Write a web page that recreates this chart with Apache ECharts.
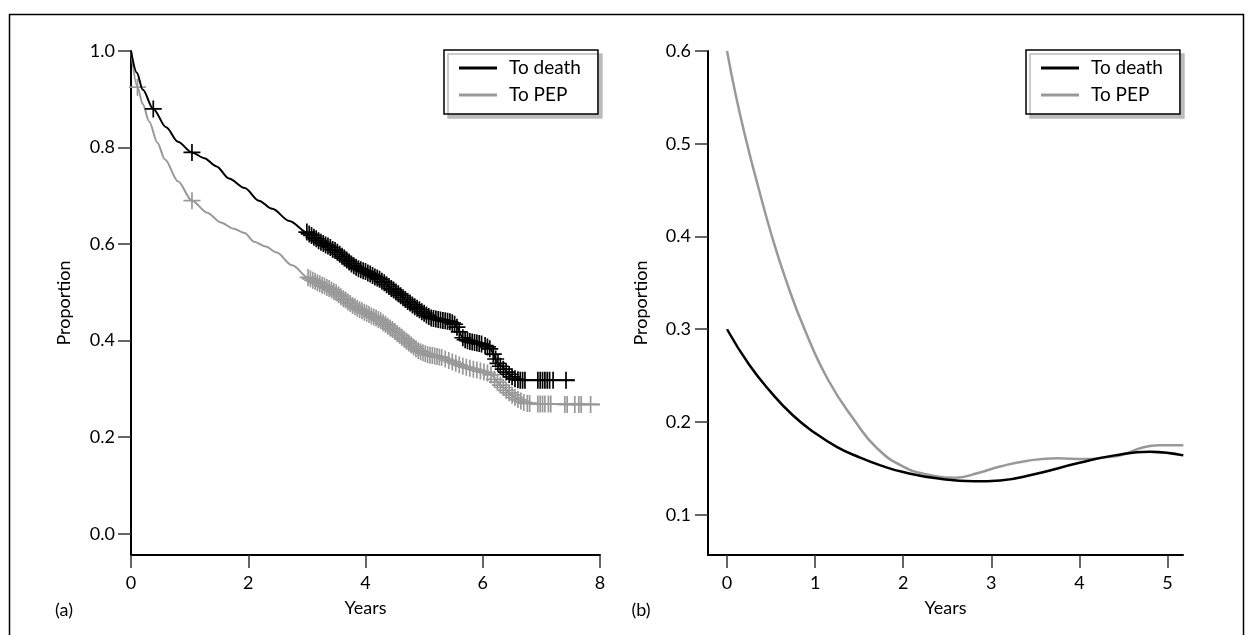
<!DOCTYPE html>
<html><head><meta charset="utf-8">
<script src="https://cdn.jsdelivr.net/npm/echarts@6/dist/echarts.min.js"></script>
<style>html,body{margin:0;padding:0;background:#fff}#c{width:1248px;height:635px}</style>
</head><body><div id="c"></div>
<script>
// ---------- Data ----------
const seriesNames = ['To death', 'To PEP'];
const leftXTicks = [0, 2, 4, 6, 8];
const leftYTicks = [0.0, 0.2, 0.4, 0.6, 0.8, 1.0];
const rightXTicks = [0, 1, 2, 3, 4, 5];
const rightYTicks = [0.1, 0.2, 0.3, 0.4, 0.5, 0.6];

// (a) survival curves [years, proportion]
const deathCurve = [[0,1.0],[0.1,0.955],[0.2,0.92],[0.38,0.88],[0.6,0.842],[0.8,0.812],[1.04,0.79],[1.25,0.778],[1.46,0.761],[1.67,0.736],[1.94,0.716],[2.18,0.69],[2.41,0.673],[2.7,0.648],[3.02,0.623],[3.25,0.603],[3.49,0.586],[3.83,0.552],[4.0,0.543],[4.24,0.527],[4.51,0.502],[4.85,0.469],[5.11,0.447],[5.45,0.439],[5.55,0.43],[5.66,0.406],[6.0,0.393],[6.12,0.383],[6.27,0.351],[6.54,0.322],[6.65,0.318],[7.57,0.318]];
const pepCurve = [[0,1.0],[0.11,0.925],[0.2,0.89],[0.31,0.854],[0.45,0.81],[0.58,0.775],[0.8,0.73],[1.04,0.69],[1.3,0.665],[1.53,0.645],[1.75,0.632],[1.94,0.623],[2.1,0.605],[2.3,0.595],[2.48,0.583],[2.75,0.556],[3.02,0.531],[3.49,0.5],[3.83,0.469],[4.24,0.443],[4.51,0.418],[4.91,0.378],[5.1,0.37],[5.32,0.364],[5.59,0.35],[5.9,0.339],[6.13,0.33],[6.34,0.304],[6.54,0.283],[6.74,0.271],[7.0,0.269],[8.0,0.268]];

// (a) censoring marks [years, proportion]
const deathCensored = [[0.38,0.88],[1.04,0.79],
 [3.00,.625],[3.04,.621],[3.08,.618],[3.12,.614],[3.16,.611],[3.20,.607],[3.24,.604],[3.28,.601],[3.32,.598],[3.36,.596],[3.40,.593],[3.44,.589],[3.48,.587],[3.52,.583],[3.56,.579],[3.60,.575],[3.64,.571],[3.68,.567],[3.72,.563],[3.76,.559],[3.80,.555],[3.84,.552],[3.88,.549],[3.92,.547],[3.96,.545],[4.00,.543],[4.04,.540],[4.08,.538],[4.12,.535],[4.16,.532],[4.20,.530],[4.24,.527],[4.28,.523],[4.32,.520],[4.36,.516],[4.40,.512],[4.44,.508],[4.48,.505],[4.52,.501],[4.56,.497],[4.60,.493],[4.64,.489],[4.68,.485],[4.72,.481],[4.76,.478],[4.80,.474],[4.84,.470],[4.88,.467],[4.92,.464],[4.96,.460],[5.00,.457],[5.04,.453],[5.08,.450],[5.12,.447],[5.16,.446],[5.20,.445],[5.24,.444],[5.28,.443],[5.32,.442],[5.36,.441],[5.40,.440],[5.44,.439],[5.48,.437],[5.52,.434],[5.56,.428],[5.60,.418],[5.66,.406],[5.70,.402],[5.74,.400],[5.78,.398],[5.82,.397],[5.86,.396],[5.90,.395],[5.94,.394],[5.98,.393],[6.04,.390],[6.08,.387],[6.12,.383],[6.18,.372],[6.22,.362],[6.26,.353],[6.30,.347],[6.35,.341],[6.40,.335],[6.45,.330],[6.50,.325],[6.55,.321],[6.60,.319],[6.64,.318],[6.68,.318],[6.72,.318],[6.94,.318],[6.98,.318],[7.02,.318],[7.06,.318],[7.10,.318],[7.14,.318],[7.20,.318],[7.42,.318]];
const pepCensored = [[0.11,0.925],[1.04,0.69],
 [3.02,.531],[3.06,.528],[3.10,.525],[3.14,.523],[3.18,.520],[3.22,.518],[3.26,.515],[3.30,.513],[3.34,.510],[3.38,.508],[3.42,.505],[3.46,.502],[3.50,.499],[3.54,.495],[3.58,.491],[3.62,.487],[3.66,.484],[3.70,.480],[3.74,.477],[3.78,.473],[3.82,.470],[3.86,.467],[3.90,.464],[3.94,.462],[3.98,.459],[4.02,.457],[4.06,.454],[4.10,.451],[4.14,.449],[4.18,.447],[4.22,.444],[4.26,.441],[4.30,.437],[4.34,.434],[4.38,.430],[4.42,.426],[4.46,.423],[4.50,.419],[4.54,.415],[4.58,.411],[4.62,.407],[4.66,.403],[4.70,.399],[4.74,.395],[4.78,.391],[4.82,.387],[4.86,.383],[4.90,.379],[4.94,.377],[4.98,.375],[5.02,.373],[5.06,.371],[5.10,.370],[5.14,.369],[5.18,.368],[5.22,.367],[5.26,.366],[5.30,.365],[5.36,.362],[5.42,.359],[5.48,.356],[5.54,.353],[5.60,.350],[5.66,.347],[5.72,.345],[5.78,.343],[5.84,.341],[5.90,.339],[5.96,.337],[6.02,.335],[6.08,.333],[6.14,.329],[6.20,.320],[6.25,.314],[6.30,.308],[6.35,.303],[6.40,.297],[6.45,.292],[6.50,.287],[6.55,.282],[6.60,.278],[6.65,.275],[6.70,.272],[6.76,.270],[6.80,.270],[6.94,.269],[6.98,.269],[7.02,.269],[7.06,.269],[7.12,.269],[7.16,.269],[7.40,.268],[7.44,.268],[7.57,.268],[7.64,.268],[7.68,.268],[7.84,.268]];

// (b) hazard curves [years, proportion]
const deathHazard = [[0,0.3],[0.25,0.262],[0.5,0.232],[0.75,0.207],[1.0,0.188],[1.25,0.173],[1.5,0.162],[1.75,0.153],[2.0,0.146],[2.4,0.139],[2.8,0.136],[3.1,0.137],[3.5,0.144],[4.0,0.156],[4.4,0.164],[4.8,0.168],[5.18,0.164]];
const pepHazard = [[0,0.6],[0.1,0.552],[0.227,0.5],[0.35,0.455],[0.51,0.4],[0.68,0.35],[0.88,0.3],[1.15,0.245],[1.46,0.2],[1.7,0.172],[2.0,0.152],[2.3,0.143],[2.6,0.14],[2.85,0.145],[3.1,0.152],[3.4,0.158],[3.75,0.161],[4.06,0.16],[4.3,0.162],[4.5,0.165],[4.7,0.172],[4.9,0.175],[5.18,0.175]];

// ---------- Chart ----------
const FONT = 'Lato';
const BLACK = '#000000';
const GREY = '#999999';
const plusSymbol = 'path://M9,0h2v20h-2zM0,9h20v2h-20z';

const chart = echarts.init(document.getElementById('c'), null, {renderer: 'canvas'});

function axisCommon(extra) {
  return Object.assign({
    type: 'value',
    splitLine: {show: false},
    axisLine: {show: true, onZero: false, lineStyle: {color: '#000', width: 2}},
    nameTextStyle: {color: '#000', fontSize: 18, fontFamily: FONT},
    nameLocation: 'middle'
  }, extra);
}
function ticks(vals) {
  return {show: true, length: 13, lineStyle: {color: '#333', width: 1.5}, customValues: vals};
}
function labels(vals, margin, fmt) {
  const o = {color: '#000', fontSize: 18, fontFamily: FONT, margin: margin, customValues: vals};
  if (fmt) o.formatter = v => Number(v).toFixed(1);
  return o;
}

function legendFor(left) {
  return {
    data: seriesNames,
    orient: 'vertical',
    left: left, top: 50,
    icon: 'rect',
    itemWidth: 38, itemHeight: 3, itemGap: 7,
    padding: [8, 17, 9, 15],
    backgroundColor: '#fff',
    borderColor: '#000', borderWidth: 1.5, borderRadius: 0,
    shadowColor: '#bbbbbb', shadowBlur: 0, shadowOffsetX: 4, shadowOffsetY: 4,
    selectedMode: false,
    textStyle: {color: '#000', fontSize: 19, fontFamily: FONT, lineHeight: 20, padding: [0, 0, 0, 7]}
  };
}

const option = {
  animation: false,
  backgroundColor: '#fff',
  textStyle: {fontFamily: FONT},
  grid: [
    {left: 131, right: 648, top: 51, bottom: 80, containLabel: false},
    {left: 708, right: 65, top: 51, bottom: 80, containLabel: false}
  ],
  xAxis: [
    axisCommon({gridIndex: 0, min: 0, max: 8, interval: 2, name: 'Years', nameGap: 44,
      axisTick: ticks(leftXTicks), axisLabel: labels(leftXTicks, 19, false)}),
    axisCommon({gridIndex: 1, min: -0.216, max: 5.176, name: 'Years', nameGap: 44,
      axisTick: ticks(rightXTicks), axisLabel: labels(rightXTicks, 19, false)})
  ],
  yAxis: [
    axisCommon({gridIndex: 0, min: -0.044, max: 1.0, name: 'Proportion', nameGap: 58,
      axisTick: ticks(leftYTicks), axisLabel: labels(leftYTicks, 16, true)}),
    axisCommon({gridIndex: 1, min: 0.0566, max: 0.6, name: 'Proportion', nameGap: 58,
      axisTick: ticks(rightYTicks), axisLabel: labels(rightYTicks, 17, true)})
  ],
  legend: [legendFor(444), legendFor(1026)],
  series: [
    {name: 'To PEP', type: 'line', xAxisIndex: 0, yAxisIndex: 0, data: pepCurve,
      showSymbol: false, smooth: 0.3, smoothMonotone: 'x', color: GREY,
      lineStyle: {color: GREY, width: 2}, itemStyle: {color: GREY}, z: 2},
    {name: 'pep-censored', type: 'scatter', xAxisIndex: 0, yAxisIndex: 0, data: pepCensored,
      symbol: plusSymbol, symbolSize: 17, itemStyle: {color: GREY, opacity: 1}, z: 3},
    {name: 'To death', type: 'line', xAxisIndex: 0, yAxisIndex: 0, data: deathCurve,
      showSymbol: false, smooth: 0.3, smoothMonotone: 'x', color: BLACK,
      lineStyle: {color: BLACK, width: 2}, itemStyle: {color: BLACK}, z: 4},
    {name: 'death-censored', type: 'scatter', xAxisIndex: 0, yAxisIndex: 0, data: deathCensored,
      symbol: plusSymbol, symbolSize: 17, itemStyle: {color: BLACK, opacity: 1}, z: 5},
    {name: 'To PEP', type: 'line', xAxisIndex: 1, yAxisIndex: 1, data: pepHazard,
      showSymbol: false, smooth: 0.5, color: GREY,
      lineStyle: {color: GREY, width: 2.5}, itemStyle: {color: GREY}, z: 2},
    {name: 'To death', type: 'line', xAxisIndex: 1, yAxisIndex: 1, data: deathHazard,
      showSymbol: false, smooth: 0.5, color: BLACK,
      lineStyle: {color: BLACK, width: 2.5}, itemStyle: {color: BLACK}, z: 3}
  ],
  graphic: [
    {type: 'rect', left: 7, top: 12, shape: {width: 1234, height: 640},
      style: {fill: 'none', stroke: '#000', lineWidth: 1.5}, silent: true, z: -1},
    {type: 'text', x: 64, y: 610, style: {text: '(a)', fill: '#000', fontSize: 18, fontFamily: FONT, align: 'center', verticalAlign: 'middle'}},
    {type: 'text', x: 641, y: 610, style: {text: '(b)', fill: '#000', fontSize: 18, fontFamily: FONT, align: 'center', verticalAlign: 'middle'}}
  ]
};
chart.setOption(option);
</script>
</body></html>
